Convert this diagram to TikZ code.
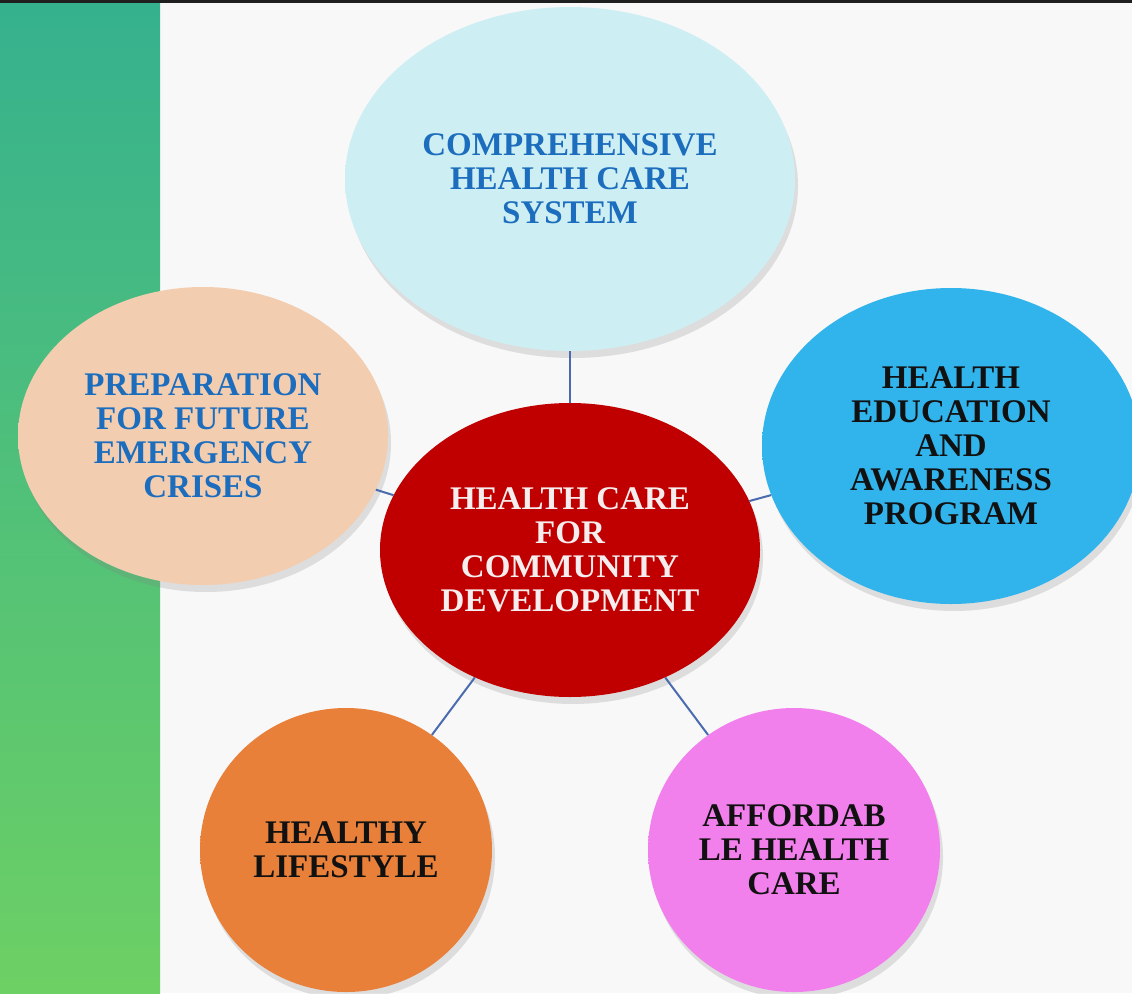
\documentclass[tikz,border=0pt]{standalone}
\usepackage{fontspec}
\setmainfont{Liberation Serif}
\usetikzlibrary{shapes.geometric,shadows}
\definecolor{bgwhite}{HTML}{F8F8F8}
\definecolor{stripTop}{HTML}{35B18E}
\definecolor{stripBot}{HTML}{6DD064}
\definecolor{connblue}{HTML}{4A6CAE}
\definecolor{textblue}{HTML}{1C6DBD}
\definecolor{textdark}{HTML}{111111}
\definecolor{textwhite}{HTML}{F6EEEE}
\definecolor{topFill}{HTML}{CDEFF3}
\definecolor{topRim}{HTML}{A8D6DE}
\definecolor{leftFill}{HTML}{F3CDB0}
\definecolor{leftRim}{HTML}{DDB293}
\definecolor{rightFill}{HTML}{31B4EC}
\definecolor{rightRim}{HTML}{1C97D2}
\definecolor{midFill}{HTML}{C00000}
\definecolor{midRim}{HTML}{F20A0A}
\definecolor{orFill}{HTML}{E8803A}
\definecolor{orRim}{HTML}{CC6A28}
\definecolor{pkFill}{HTML}{F280EC}
\definecolor{pkRim}{HTML}{E46BDD}
\pgfdeclareradialshading{bevTop}{\pgfpoint{0bp}{0bp}}{color(0bp)=(topFill); color(40bp)=(topFill); color(48bp)=(topRim); color(50bp)=(topRim)}
\pgfdeclareradialshading{bevLeft}{\pgfpoint{0bp}{0bp}}{color(0bp)=(leftFill); color(40bp)=(leftFill); color(48bp)=(leftRim); color(50bp)=(leftRim)}
\pgfdeclareradialshading{bevRight}{\pgfpoint{0bp}{0bp}}{color(0bp)=(rightFill); color(40bp)=(rightFill); color(48bp)=(rightRim); color(50bp)=(rightRim)}
\pgfdeclareradialshading{bevMid}{\pgfpoint{0bp}{0bp}}{color(0bp)=(midFill); color(37bp)=(midFill); color(46bp)=(midRim); color(50bp)=(midRim)}
\pgfdeclareradialshading{bevOr}{\pgfpoint{0bp}{0bp}}{color(0bp)=(orFill); color(40bp)=(orFill); color(48bp)=(orRim); color(50bp)=(orRim)}
\pgfdeclareradialshading{bevPk}{\pgfpoint{0bp}{0bp}}{color(0bp)=(pkFill); color(40bp)=(pkFill); color(48bp)=(pkRim); color(50bp)=(pkRim)}
\begin{document}
\begin{tikzpicture}[x=1pt,y=-1pt,
  bubble/.style={ellipse, inner sep=0pt, align=center, shade,
    font=\bfseries\fontsize{33}{34}\selectfont,
    drop shadow={shadow xshift=3pt, shadow yshift=-7pt, opacity=0.22}},
  conn/.style={draw=connblue, line width=2pt}]
\useasboundingbox (0,0) rectangle (1132,993);
\clip (0,0) rectangle (1132,993);
\fill[bgwhite] (0,0) rectangle (1132,993);
\shade[top color=stripTop, bottom color=stripBot] (0,0) rectangle (160,993);
\fill[black!88] (0,0) rectangle (1132,3);

\node[bubble, shading=bevTop, minimum width=450pt, minimum height=344pt, text=textblue] (top) at (570,179) {COMPREHENSIVE\\HEALTH CARE\\SYSTEM};
\node[bubble, shading=bevLeft, minimum width=370pt, minimum height=298pt, text=textblue] (left) at (203,436) {PREPARATION\\FOR FUTURE\\EMERGENCY\\CRISES};
\node[bubble, shading=bevRight, minimum width=378pt, minimum height=316pt, text=textdark] (right) at (951,446) {HEALTH\\EDUCATION\\AND\\AWARENESS\\PROGRAM};
\node[bubble, shading=bevOr, minimum width=292pt, minimum height=284pt, text=textdark] (bl) at (346,850) {HEALTHY\\LIFESTYLE};
\node[bubble, shading=bevPk, minimum width=292pt, minimum height=284pt, text=textdark] (br) at (794,850) {AFFORDAB\\LE HEALTH\\CARE};
\node[bubble, shading=bevMid, minimum width=380pt, minimum height=294pt, text=textwhite] (mid) at (570,550) {HEALTH CARE\\FOR\\COMMUNITY\\DEVELOPMENT};

\draw[conn] (mid) -- (top);
\draw[conn] (mid) -- (left);
\draw[conn] (mid) -- (right);
\draw[conn] (mid) -- (bl);
\draw[conn] (mid) -- (br);
\end{tikzpicture}
\end{document}
